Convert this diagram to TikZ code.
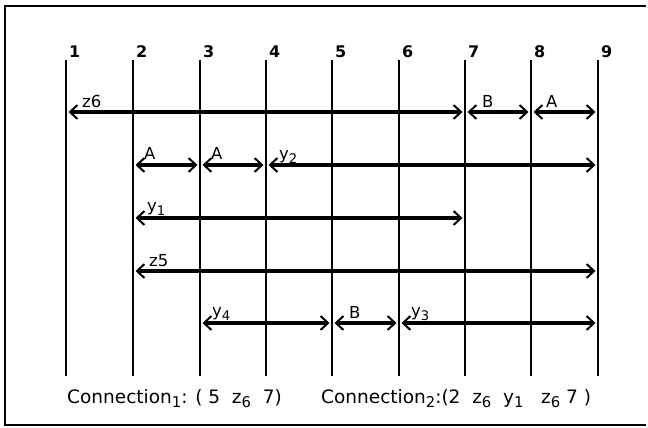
\documentclass[tikz,border=0pt]{standalone}
\usepackage{fontspec}
\setmainfont{DejaVu Sans}
\usetikzlibrary{arrows.meta}
\newcommand{\sub}[1]{\raisebox{-0.45ex}{\fontsize{0.8em}{1em}\selectfont #1}}
\begin{document}
\begin{tikzpicture}[x=1pt,y=-1pt,
  vline/.style={line width=1.8pt},
  conn/.style={line width=3.2pt,shorten <=2.5pt,shorten >=2.5pt,{Straight Barb[length=7.5pt,width=14pt,line width=2pt]}-{Straight Barb[length=7.5pt,width=14pt,line width=2pt]}},
  lab/.style={anchor=base west,inner sep=0pt,font=\fontsize{16.5}{18}\selectfont},
  num/.style={anchor=base west,inner sep=0pt,font=\bfseries\fontsize{16}{18}\selectfont},
  captext/.style={anchor=base west,inner sep=0pt,font=\fontsize{18.5}{20}\selectfont}]
\useasboundingbox (0,0) rectangle (648,428);
\draw[line width=1.2pt] (646,6) -- (5,6) -- (5,425) -- (646,425);
% vertical lines
\foreach \i/\x in {1/66,2/133,3/200,4/266,5/332,6/399,7/465,8/531,9/598}{
  \coordinate (t\i) at (\x,60);
  \coordinate (b\i) at (\x,376);
  \draw[vline] (t\i) -- (b\i);
  \node[num] (n\i) at (\x+3,58) {\i};
}
% rows
\foreach \r/\y in {1/112,2/165,3/218,4/271,5/323}{
  \foreach \i in {1,...,9}{\coordinate (p\i-\r) at (t\i|-0,\y);}
}
% row 1
\draw[conn] (p1-1) -- (p7-1);
\node[lab] (z6) at ([xshift=16pt,yshift=5pt]p1-1) {z6};
\draw[conn] (p7-1) -- (p8-1);
\node[lab] (B1) at ([xshift=17pt,yshift=5pt]p7-1) {B};
\draw[conn] (p8-1) -- (p9-1);
\node[lab] (A1) at ([xshift=15pt,yshift=5pt]p8-1) {A};
% row 2
\draw[conn] (p2-2) -- (p3-2);
\node[lab] (A2) at ([xshift=11pt,yshift=6pt]p2-2) {A};
\draw[conn] (p3-2) -- (p4-2);
\node[lab] (A3) at ([xshift=11pt,yshift=6pt]p3-2) {A};
\draw[conn] (p4-2) -- (p9-2);
\node[lab] (y2) at ([xshift=13pt,yshift=6pt]p4-2) {y\sub{2}};
% row 3
\draw[conn] (p2-3) -- (p7-3);
\node[lab] (y1) at ([xshift=14pt,yshift=7pt]p2-3) {y\sub{1}};
% row 4
\draw[conn] (p2-4) -- (p9-4);
\node[lab] (z5) at ([xshift=16pt,yshift=5pt]p2-4) {z5};
% row 5
\draw[conn] (p3-5) -- (p5-5);
\node[lab] (y4) at ([xshift=12pt,yshift=7pt]p3-5) {y\sub{4}};
\draw[conn] (p5-5) -- (p6-5);
\node[lab] (B2) at ([xshift=17pt,yshift=5pt]p5-5) {B};
\draw[conn] (p6-5) -- (p9-5);
\node[lab] (y3) at ([xshift=12pt,yshift=7pt]p6-5) {y\sub{3}};
% captions
\node[captext] (c1) at (67,403) {Connection\sub{1}: ( 5 \ z\sub{6} \ 7)};
\node[captext] (c2) at (321,403) {Connection\sub{2}:(2 \ z\sub{6} \ y\sub{1} \ \ z\sub{6} 7 )};
\end{tikzpicture}
\end{document}
